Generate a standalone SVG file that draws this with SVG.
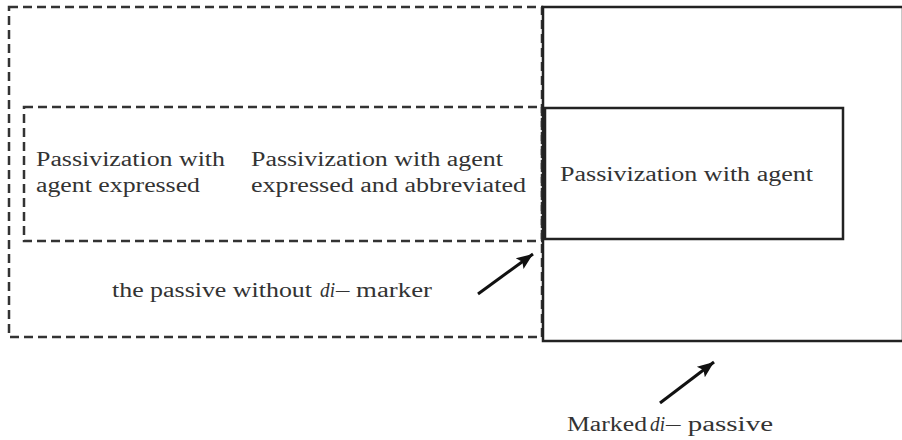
<svg xmlns="http://www.w3.org/2000/svg" width="902" height="440" viewBox="0 0 902 440">
<style>
.dash{fill:none;stroke:#333;stroke-width:2.5;stroke-dasharray:9 5}
.solid{fill:none;stroke:#222;stroke-width:2.5}
text{font-family:"Liberation Serif","Times New Roman",serif;font-size:20px;fill:#333}
.it{font-style:italic}
.arr{stroke:#111;stroke-width:3;marker-end:url(#ah)}
</style>
<defs>
<marker id="ah" viewBox="0 0 10 10" refX="10" refY="5" markerWidth="5.5" markerHeight="5.5" orient="auto" markerUnits="strokeWidth">
<path d="M0,1 L10,5 L0,9 L2,5 z" fill="#111"/>
</marker>
</defs>
<g id="outer-dashed">
<rect class="dash" x="9" y="7" width="533" height="330"/>
<text x="112" y="297" textLength="200" lengthAdjust="spacingAndGlyphs">the passive without</text>
<text class="it" x="320" y="297" textLength="15" lengthAdjust="spacingAndGlyphs">di</text>
<text x="336" y="297" textLength="96" lengthAdjust="spacingAndGlyphs">– marker</text>
</g>
<g id="inner-dashed">
<rect class="dash" x="24" y="107" width="518" height="134"/>
<text x="36" y="166" textLength="189" lengthAdjust="spacingAndGlyphs">Passivization with</text>
<text x="36" y="192" textLength="164" lengthAdjust="spacingAndGlyphs">agent expressed</text>
<text x="251" y="166" textLength="252" lengthAdjust="spacingAndGlyphs">Passivization with agent</text>
<text x="251" y="192" textLength="275" lengthAdjust="spacingAndGlyphs">expressed and abbreviated</text>
</g>
<g id="marked-passive">
<rect class="solid" x="543" y="7" width="360" height="334"/>
<text x="567" y="431" textLength="80" lengthAdjust="spacingAndGlyphs">Marked</text>
<text class="it" x="650" y="431" textLength="15" lengthAdjust="spacingAndGlyphs">di</text>
<text x="666" y="431" textLength="107" lengthAdjust="spacingAndGlyphs">– passive</text>
</g>
<g id="passivization-agent">
<rect class="solid" x="545" y="108" width="298" height="131"/>
<text x="560" y="181" textLength="253" lengthAdjust="spacingAndGlyphs">Passivization with agent</text>
</g>
<g id="connectors">
<line class="arr" x1="478" y1="294" x2="533" y2="254"/>
<line class="arr" x1="660" y1="403" x2="714" y2="362"/>
</g>
</svg>
